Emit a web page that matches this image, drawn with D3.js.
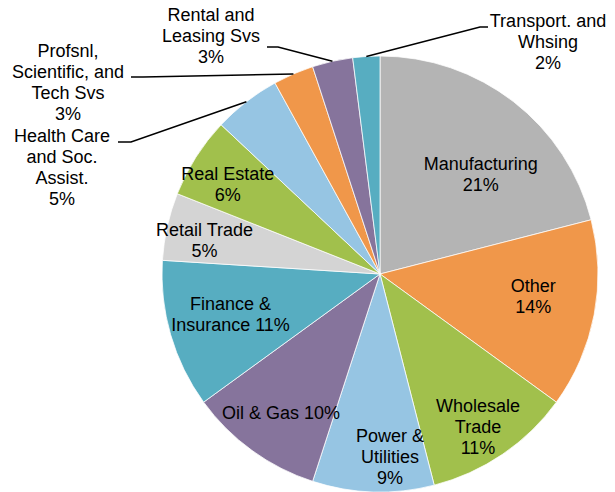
<!DOCTYPE html>
<html lang="en">
<head>
  <meta charset="UTF-8">
  <title>Share by Industry</title>
  <style>
    body { margin: 0; background: #fff; }
    svg text { font-family: "Liberation Sans", Arial, sans-serif; font-size: 18px; fill: #000; }
  </style>
</head>
<body>
  <div id="pie-chart"></div>
  <script src="https://d3js.org/d3.v7.min.js"></script>
  <script>

    // data, clockwise from 12 o'clock
    const categories = ["Manufacturing", "Other", "Wholesale Trade", "Power & Utilities", "Oil & Gas",
                        "Finance & Insurance", "Retail Trade", "Real Estate", "Health Care and Soc. Assist.",
                        "Profsnl, Scientific, and Tech Svs", "Rental and Leasing Svs", "Transport. and Whsing"];
    const shares = [21, 14, 11, 9, 10, 11, 5, 6, 5, 3, 3, 2];
    const labelLines = [
      ["Manufacturing", "21%"],
      ["Other", "14%"],
      ["Wholesale", "Trade", "11%"],
      ["Power &", "Utilities", "9%"],
      ["Oil & Gas 10%"],
      ["Finance &", "Insurance 11%"],
      ["Retail Trade", "5%"],
      ["Real Estate", "6%"],
      ["Health Care", "and Soc.", "Assist.", "5%"],
      ["Profsnl,", "Scientific, and", "Tech Svs", "3%"],
      ["Rental and", "Leasing Svs", "3%"],
      ["Transport. and", "Whsing", "2%"]
    ];
    const colors = ["#b4b4b4", "#f0974a", "#a1c04c", "#96c5e3", "#86749c", "#57adc1",
                    "#d4d4d4", "#a1c04c", "#96c5e3", "#f0974a", "#86749c", "#57adc1"];

    const width = 615,
          height = 492,
          cx = 380, cy = 274,
          radius = 218,
          lineH = 21;

    // label layout: inside labels as [radius fraction, angle shift in degrees]
    const inside = {
      0: [0.65, 7.5], 1: [0.71, -2.6], 2: [0.83, 1.4], 3: [0.84, -4.9],
      4: [0.78, -0.4], 5: [0.71, 1.2], 6: [0.82, -1.6], 7: [0.81, -1.9]
    };
    // outside labels: text centre x, first baseline, leader knee and end
    const outside = {
      8:  {x: 62,  y: 142, knee: [131, 142], end: [118, 142]},
      9:  {x: 68,  y: 57,  knee: [143, 77],  end: [131, 77]},
      10: {x: 211, y: 21,  knee: [278, 47],  end: [267, 47]},
      11: {x: 548, y: 27,  knee: [480, 27],  end: [488, 27]}
    };

    const svg = d3.select("#pie-chart")
      .append("svg")
      .attr("width", width)
      .attr("height", height);

    const g = svg.append("g")
      .attr("transform", `translate(${cx},${cy})`);

    const pie = d3.pie().sort(null).value(d => d);
    const arcs = pie(shares);

    const arc = d3.arc().innerRadius(0).outerRadius(radius);

    g.selectAll("path")
      .data(arcs)
      .join("path")
      .attr("d", arc)
      .attr("fill", (d, i) => colors[i])
      .attr("stroke", "#fff")
      .attr("stroke-width", 0.75);

    const polar = (a, r) => [Math.sin(a) * r, -Math.cos(a) * r];

    // inside labels
    arcs.forEach((d, i) => {
      const mid = (d.startAngle + d.endAngle) / 2;
      const lines = labelLines[i];
      let x, y;
      if (inside[i]) {
        const [k, shift] = inside[i];
        [x, y] = polar(mid + shift * Math.PI / 180, radius * k);
        y = y - (lines.length - 1) * lineH / 2 + 6.5;
      } else {
        const o = outside[i];
        x = o.x - cx;
        y = o.y - cy;
        const start = polar(mid, radius);
        g.append("polyline")
          .attr("points", [start, [o.knee[0] - cx, o.knee[1] - cy], [o.end[0] - cx, o.end[1] - cy]].join(" "))
          .attr("fill", "none")
          .attr("stroke", "#000")
          .attr("stroke-width", 1.5);
      }
      const t = g.append("text")
        .attr("text-anchor", "middle");
      t.selectAll("tspan")
        .data(lines)
        .join("tspan")
        .attr("x", x)
        .attr("y", (s, j) => y + j * lineH)
        .text(s => s);
    });

  </script>
</body>
</html>
